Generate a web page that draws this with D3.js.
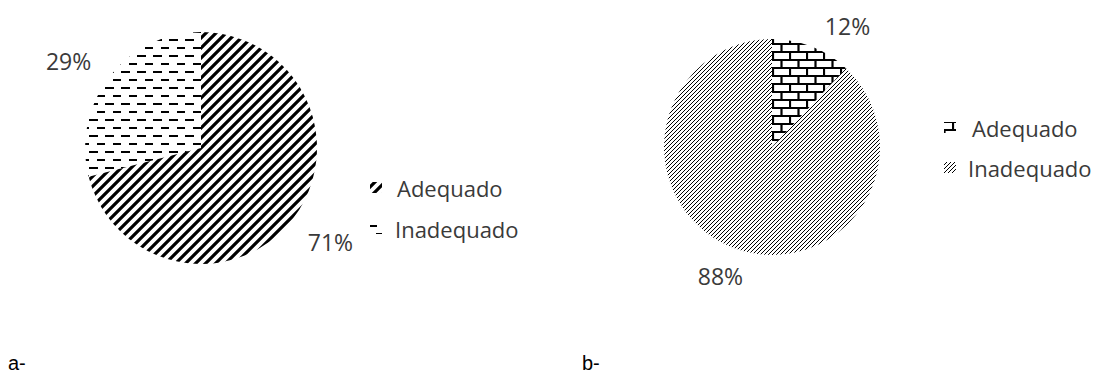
<!DOCTYPE html>
<html>
<head>
<meta charset="utf-8">
<script src="https://cdn.jsdelivr.net/npm/d3@7"></script>
<style>
  body { margin: 0; background: #fff; }
  svg { display: block; }
</style>
</head>
<body>
<svg id="chart" width="1098" height="377"></svg>
<script>
// data
const categories = ["Adequado", "Inadequado"];
const valuesA = [71, 29];
const valuesB = [12, 88];
const panelLabels = ["a-", "b-"];

const svg = d3.select("#chart");
svg.append("rect").attr("width", 1098).attr("height", 377).attr("fill", "#fff");

const defs = svg.append("defs");

// thick upward diagonal
const pDiag = defs.append("pattern").attr("id", "diagWide")
  .attr("patternUnits", "userSpaceOnUse").attr("width", 10).attr("height", 10);
pDiag.append("path").attr("d", "M-2,2 L2,-2 M0,10 L10,0 M8,12 L12,8")
  .attr("stroke", "#000").attr("stroke-width", 3.2);

// dashed horizontal
const pDash = defs.append("pattern").attr("id", "dashH")
  .attr("patternUnits", "userSpaceOnUse").attr("width", 16).attr("height", 16);
pDash.append("rect").attr("x", 0).attr("y", 3).attr("width", 9).attr("height", 2).attr("fill", "#000");
pDash.append("rect").attr("x", 8).attr("y", 11).attr("width", 9).attr("height", 2).attr("fill", "#000");

// fine upward diagonal
const pFine = defs.append("pattern").attr("id", "diagFine")
  .attr("patternUnits", "userSpaceOnUse").attr("width", 4).attr("height", 4);
pFine.append("path").attr("d", "M-1,1 L1,-1 M0,4 L4,0 M3,5 L5,3")
  .attr("stroke", "#000").attr("stroke-width", 1);

// brick
const pBrick = defs.append("pattern").attr("id", "brick")
  .attr("patternUnits", "userSpaceOnUse").attr("width", 17).attr("height", 16);
pBrick.append("path").attr("d", "M0,1 H17 M0,9 H17 M1,1 V9 M9.5,9 V17")
  .attr("stroke", "#000").attr("stroke-width", 2.2);

const txtColor = "#3a3a3a";
const txtFont = "'Open Sans', sans-serif";

const charts = [
  {
    values: valuesA, cx: 201, cy: 148, r: 116,
    fills: ["url(#diagWide)", "url(#dashH)"],
    labelR: 160, nudge: [[3, -3], [-6, 12]],
    legend: { x: 370, y: 197, step: 41, textX: [397, 395] },
    panelX: 8
  },
  {
    values: valuesB, cx: 772, cy: 147, r: 108,
    fills: ["url(#brick)", "url(#diagFine)"],
    labelR: 140, nudge: [[24, 10], [0, 0]],
    legend: { x: 944, y: 137, step: 40, textX: [972, 968] },
    panelX: 582
  }
];

const pie = d3.pie().sort(null).value(d => d);

charts.forEach((c, ci) => {
  const g = svg.append("g").attr("transform", `translate(${c.cx},${c.cy})`);
  const arc = d3.arc().innerRadius(0).outerRadius(c.r);
  const arcs = pie(c.values);

  g.selectAll("path.slice").data(arcs).enter().append("path")
    .attr("class", "slice")
    .attr("d", arc)
    .attr("fill", (d, i) => c.fills[i]);

  g.selectAll("text.pct").data(arcs).enter().append("text")
    .attr("class", "pct")
    .attr("x", (d, i) => {
      const a = (d.startAngle + d.endAngle) / 2;
      return c.labelR * Math.sin(a) + c.nudge[i][0];
    })
    .attr("y", (d, i) => {
      const a = (d.startAngle + d.endAngle) / 2;
      return -c.labelR * Math.cos(a) + c.nudge[i][1];
    })
    .attr("dy", "0.36em")
    .attr("text-anchor", "middle")
    .attr("font-family", txtFont)
    .attr("font-size", 23)
    .attr("fill", txtColor)
    .text(d => d.data + "%");

  // legend
  const lg = svg.append("g");
  const items = lg.selectAll("g").data(categories).enter().append("g")
    .attr("transform", (d, i) => `translate(0,${c.legend.y + i * c.legend.step})`);
  items.append("rect")
    .attr("x", c.legend.x).attr("y", -15)
    .attr("width", 12).attr("height", 11)
    .attr("fill", (d, i) => c.fills[i]);
  items.append("text")
    .attr("x", (d, i) => c.legend.textX[i])
    .attr("font-family", txtFont)
    .attr("font-size", 22)
    .attr("fill", txtColor)
    .text(d => d);

  svg.append("text")
    .attr("x", c.panelX).attr("y", 370)
    .attr("font-family", "'Liberation Sans', Arial, sans-serif")
    .attr("font-size", 20)
    .attr("fill", "#000")
    .text(panelLabels[ci]);
});
</script>
</body>
</html>
